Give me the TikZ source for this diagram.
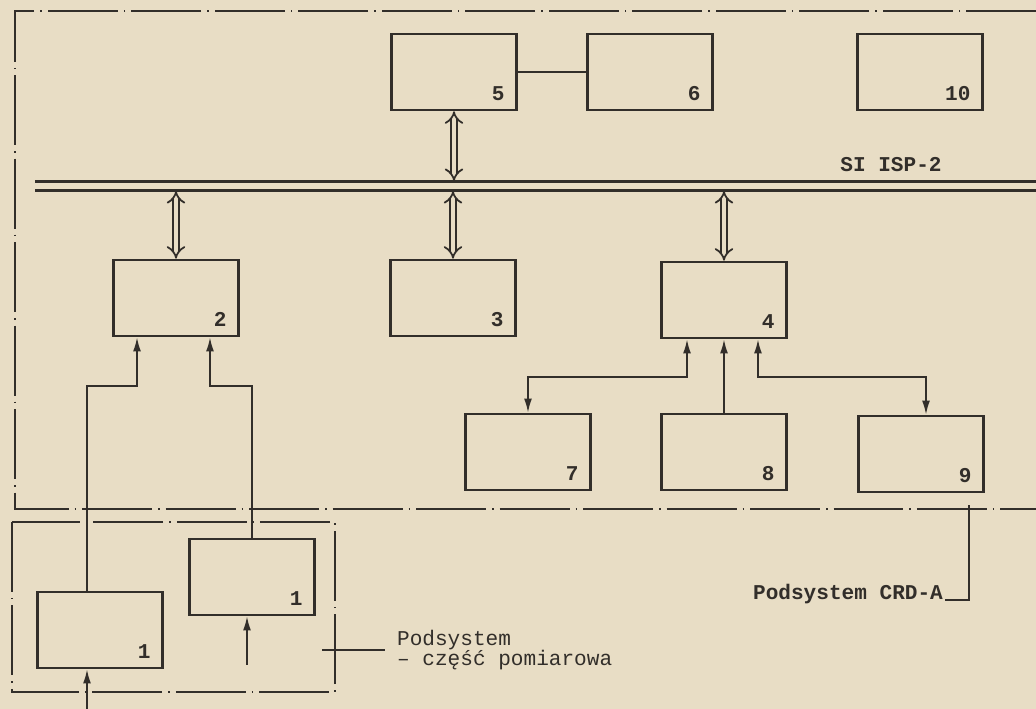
\documentclass[tikz,border=0pt,12pt]{standalone}
\usepackage{fontspec}
\setmonofont{Liberation Mono}
\usepackage{tikz}
\usetikzlibrary{arrows.meta}
\usetikzlibrary{positioning}
\definecolor{papier}{RGB}{232,221,197}
\definecolor{tusz}{RGB}{50,46,42}
\tikzset{blok/.style = {draw, rectangle, line width = 1.5pt, minimum width = 2.5cm, minimum height = 1.52cm, inner sep = 0}}
\tikzset{nr/.style = {anchor = south east, inner sep = 0, xshift = -0.26cm, yshift = 0.2cm, font = \ttfamily\bfseries}}
\tikzset{strz/.style = {-{Latex[length = 8pt, width = 4.5pt]}, line width = 1pt}}
\tikzset{dwustrz/.style = {{Latex[length = 8pt, width = 4.5pt]}-{Latex[length = 8pt, width = 4.5pt]}, line width = 1pt}}
\tikzset{szyna/.style = {double = papier, double distance = 2.6pt, line width = 1pt, {Implies}-{Implies}}}
\tikzset{ramka/.style = {line width = 0.9pt, dash pattern = on 1.4cm off 0.12cm on 0.03cm off 0.12cm}}
\tikzset{opis/.style = {font = \ttfamily, inner sep = 1pt}}

\begin{document}
\begin{tikzpicture}[x = 0.02cm, y = -0.02cm, color = tusz]
      \fill [papier] (0, 0) rectangle (1036, 709);
      \useasboundingbox (0, 0) rectangle (1036, 709);

      \coordinate (rA) at (1036, 11);
      \coordinate (rB) at (15, 11);
      \coordinate (rC) at (15, 509);
      \coordinate (rD) at (1036, 509);
      \draw [ramka] (rA) -- (rB) -- (rC) -- (rD);
      \draw [ramka] (12, 522) rectangle (335, 692);

      \coordinate (szynaL) at (35, 186);
      \coordinate (szynaP) at (1036, 186);
      \coordinate (szynaG) at (0, 181);
      \coordinate (szynaD) at (0, 191);
      \draw [line width = 1.5pt, double = papier, double distance = 3.6pt] (szynaL) -- (szynaP);
      \node [opis, font = \ttfamily\bfseries, anchor = base] (si) at (891, 172) {SI ISP-2};

      \node [blok, label={[nr]south east:5}] (b5) at (454, 72) {};
      \node [blok, label={[nr]south east:6}] (b6) at (650, 72) {};
      \node [blok, label={[nr]south east:10}] (b10) at (920, 72) {};
      \node [blok, label={[nr]south east:2}] (b2) at (176, 298) {};
      \node [blok, label={[nr]south east:3}] (b3) at (453, 298) {};
      \node [blok, label={[nr]south east:4}] (b4) at (724, 300) {};
      \node [blok, label={[nr]south east:7}] (b7) at (528, 452) {};
      \node [blok, label={[nr]south east:8}] (b8) at (724, 452) {};
      \node [blok, label={[nr]south east:9}] (b9) at (921, 454) {};
      \node [blok, label={[nr]south east:1}] (b1a) at (100, 630) {};
      \node [blok, label={[nr]south east:1}] (b1b) at (252, 577) {};

      \draw [line width = 1pt] (b5.east) -- (b6.west);

      \draw [szyna] (b5.south) -- (b5.south |- szynaG);
      \draw [szyna] (b3.north) -- (b3.north |- szynaD);
      \draw [szyna] (b2.north) -- (b2.north |- szynaD);
      \draw [szyna] (b4.north) -- (b4.north |- szynaD);

      \draw [strz] ([xshift = -0.26cm]b1a.north) -- ++(0, -205) -| ([xshift = -0.78cm]b2.south);
      \draw [strz] (b1b.north) -- ++(0, -152) -| ([xshift = 0.68cm]b2.south);
      \coordinate (we1b) at (247, 665);
      \draw [strz] (we1b) -- (we1b |- b1b.south);
      \coordinate (we1a) at (87, 709);
      \draw [strz] (we1a) -- (we1a |- b1a.south);

      \draw [dwustrz] ([xshift = -0.74cm]b4.south) -- ++(0, 38) -| (b7.north);
      \draw [strz] (b8.north) -- (b4.south);
      \draw [dwustrz] ([xshift = 0.68cm]b4.south) -- ++(0, 38) -| ([xshift = 0.1cm]b9.north);

      \node [opis, font = \ttfamily\bfseries, anchor = base east] (crd) at (945, 600) {Podsystem CRD-A};
      \coordinate (crdG) at (969, 505);
      \draw [line width = 1pt] (crd.base east) -| (crdG);

      \node [opis, anchor = west, align = left] (pom) at (395, 650) {Podsystem\\[-3pt]– część pomiarowa};
      \coordinate (pomL) at (322, 650);
      \draw [line width = 1pt] (pomL) -- ([xshift = -0.2cm]pom.west);
    \end{tikzpicture}
\end{document}
